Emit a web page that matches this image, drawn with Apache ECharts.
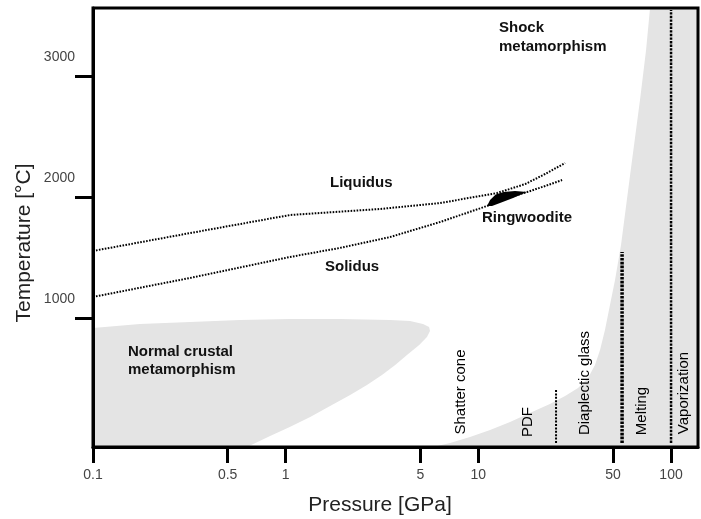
<!DOCTYPE html>
<html>
<head>
<meta charset="utf-8">
<script src="https://cdn.jsdelivr.net/npm/echarts@6/dist/echarts.min.js"></script>
<style>
html,body{margin:0;padding:0;background:#fff;}
#chart{width:701px;height:519px;}
</style>
</head>
<body>
<div id="chart"></div>
<script>
// ---- data ----
const pressureTicks = [0.1, 0.5, 1, 5, 10, 50, 100];
const temperatureTicks = [1000, 2000, 3000];
const pressureRange = [0.1, 138];
const temperatureRange = [-66, 3562];

const liquidus = [[0.1,1554],[0.319,1702],[1.05,1851],[3.09,1901],[6.32,1950],[12.5,2033],[17.5,2107],[22.2,2190],[28.2,2281]];
const solidus = [[0.1,1174],[0.319,1331],[1.05,1504],[1.91,1579],[3.48,1669],[6.32,1793],[11.1,1926],[14.1,1992],[17.9,2041],[22.2,2091],[27.2,2140]];

const normalCrustal = [[0.1,-66],[0.1,917],[0.175,950],[0.319,967],[0.579,983],[1.05,992],[1.91,992],[3.48,983],[4.42,975],[5.16,950],[5.55,926],[5.61,893],[5.41,843],[4.93,777],[4.26,694],[3.70,612],[3.16,529],[2.64,446],[2.16,364],[1.70,273],[1.34,182],[1.05,99],[0.83,25],[0.63,-66]];

const shockRegion = [[5.82,-66],[7.13,-33],[9.05,17],[11.5,74],[14.6,140],[18.5,215],[23.5,289],[28.2,355],[32.9,421],[37.1,504],[40.3,612],[42.8,736],[45.4,901],[48.2,1107],[51.2,1314],[55.0,1603],[61.3,2182],[69.0,2802],[74.2,3215],[77.8,3562],[138,3562],[138,-66]];

const ringwoodite = [[11.09,1926],[11.5,1975],[12.3,2020],[13.5,2041],[15.5,2050],[17.89,2041],[16.45,2017],[15.14,1992],[12.95,1950],[11.77,1926]];

const pdfLine = [[25.3,-33],[25.3,405]];
const meltingLine = [[55.7,-33],[55.7,1545]];
const vaporizationLine = [[100,-33],[100,3545]];

// ---- chart ----
const FONT = '"Liberation Sans", Arial, sans-serif';
const chart = echarts.init(document.getElementById('chart'), null, {renderer: 'canvas'});

function polygonSeries(points, fill, z) {
  return {
    type: 'custom',
    coordinateSystem: 'cartesian2d',
    data: points,
    z: z,
    silent: true,
    animation: false,
    encode: {x: 0, y: 1},
    renderItem: function (params, api) {
      if (params.dataIndex !== 0) return;
      const pts = points.map(p => api.coord(p));
      return {type: 'polygon', shape: {points: pts}, style: {fill: fill, stroke: null}};
    }
  };
}
function dottedLine(points, width, dash, z) {
  return {
    type: 'line', data: points, symbol: 'none', z: z, silent: true, animation: false,
    lineStyle: {color: '#000', width: width, type: dash, cap: 'butt'}
  };
}

function txt(x, y, text, opts) {
  opts = opts || {};
  return {
    type: 'text', x: x, y: y, rotation: opts.rot || 0, z: 100,
    style: {
      text: text,
      font: (opts.bold ? 'bold ' : '') + (opts.size || 15) + 'px ' + FONT,
      fill: opts.color || '#111',
      textAlign: opts.align || 'left', align: opts.align || 'left',
      textVerticalAlign: opts.valign || 'middle', verticalAlign: opts.valign || 'middle',
      lineHeight: opts.lh || 18
    }
  };
}

const option = {
  backgroundColor: '#fff',
  animation: false,
  grid: {left: 93, top: 8, right: 3, bottom: 72, show: true, borderColor: '#000', borderWidth: 3, backgroundColor: 'transparent', z: 10},
  xAxis: {
    type: 'log', logBase: 10, min: pressureRange[0], max: pressureRange[1], z: 10,
    axisLine: {show: true, onZero: false, lineStyle: {color: '#000', width: 3}},
    axisTick: {show: true, inside: false, length: 16, lineStyle: {color: '#000', width: 3}, customValues: pressureTicks},
    axisLabel: {show: true, margin: 21, fontSize: 14, color: '#444', fontFamily: FONT, customValues: pressureTicks,
      formatter: v => String(+(+v).toPrecision(3))},
    splitLine: {show: false}, minorTick: {show: false}
  },
  yAxis: {
    type: 'value', min: temperatureRange[0], max: temperatureRange[1], z: 10,
    axisLine: {show: true, onZero: false, lineStyle: {color: '#000', width: 3}},
    axisTick: {show: true, inside: false, length: 18, lineStyle: {color: '#000', width: 3}, customValues: temperatureTicks},
    axisLabel: {show: true, margin: 18, fontSize: 14, color: '#444', fontFamily: FONT, customValues: temperatureTicks,
      verticalAlign: 'bottom', padding: [0, 0, 12, 0], formatter: v => String(Math.round(v))},
    splitLine: {show: false}
  },
  series: [
    polygonSeries(normalCrustal, '#e4e4e4', 1),
    polygonSeries(shockRegion, '#e4e4e4', 1),
    dottedLine(liquidus, 2, [1.6, 1.4], 3),
    dottedLine(solidus, 2, [1.6, 1.4], 3),
    dottedLine(pdfLine, 2, [2, 1.4], 3),
    dottedLine(meltingLine, 3.5, [2.6, 1.2], 3),
    dottedLine(vaporizationLine, 2.5, [2.4, 1.2], 3),
    polygonSeries(ringwoodite, '#000', 4)
  ],
  graphic: [
    txt(499, 18.5, 'Shock\nmetamorphism', {bold: true, valign: 'top', lh: 19}),
    txt(330, 183, 'Liquidus', {bold: true}),
    txt(325, 267, 'Solidus', {bold: true}),
    txt(482, 218, 'Ringwoodite', {bold: true}),
    txt(128, 343, 'Normal crustal\nmetamorphism', {bold: true, valign: 'top', lh: 18}),
    txt(461, 392, 'Shatter cone', {rot: Math.PI / 2, align: 'center', size: 15, color: '#000'}),
    txt(528, 422, 'PDF', {rot: Math.PI / 2, align: 'center', size: 15, color: '#000'}),
    txt(585, 383, 'Diaplectic glass', {rot: Math.PI / 2, align: 'center', size: 15, color: '#000'}),
    txt(642, 411, 'Melting', {rot: Math.PI / 2, align: 'center', size: 15, color: '#000'}),
    txt(684, 393, 'Vaporization', {rot: Math.PI / 2, align: 'center', size: 15, color: '#000'}),
    txt(24, 243, 'Temperature [°C]', {rot: Math.PI / 2, align: 'center', size: 21, color: '#222'}),
    txt(380, 505, 'Pressure [GPa]', {align: 'center', size: 21, color: '#222'})
  ]
};
chart.setOption(option);
</script>
</body>
</html>
